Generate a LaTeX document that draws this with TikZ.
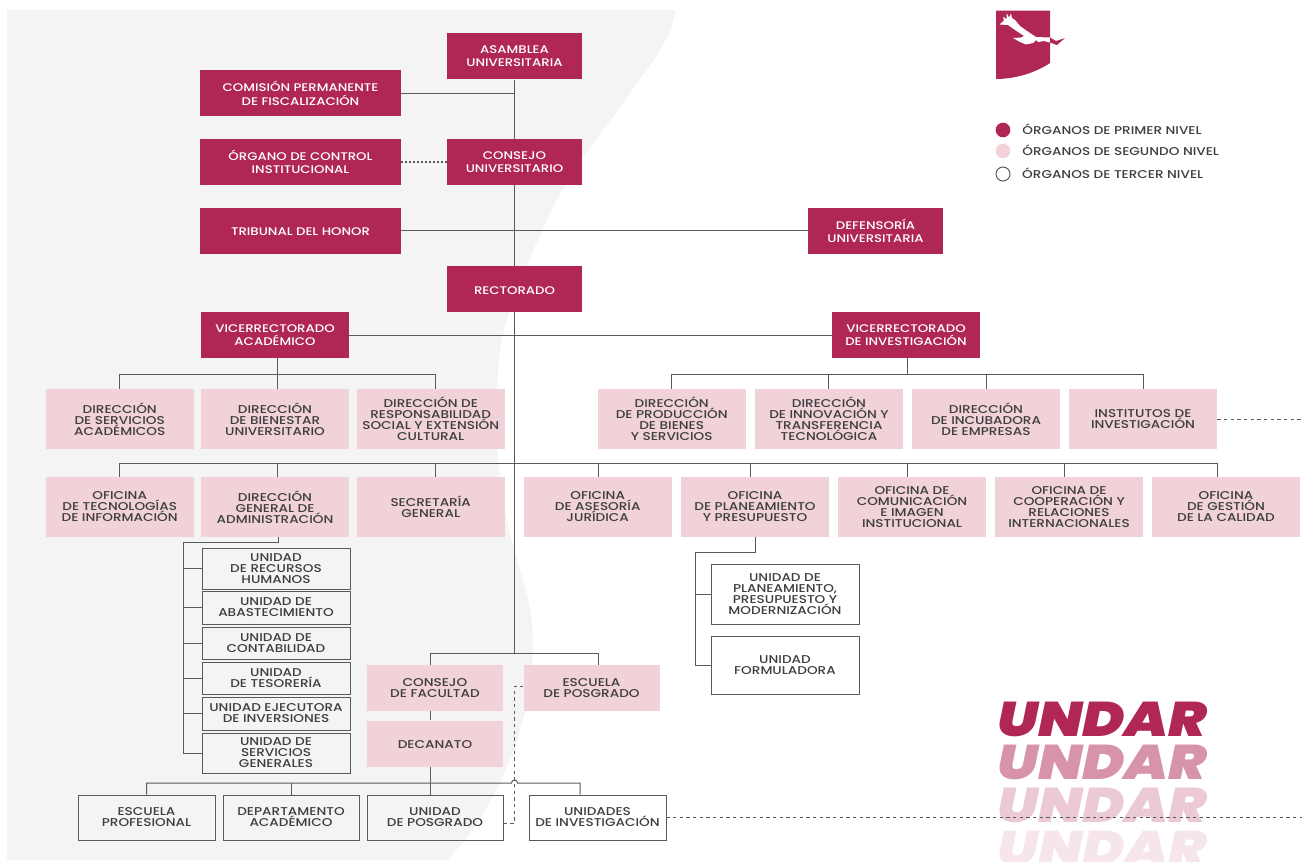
\documentclass[tikz,border=0pt]{standalone}
\usepackage{fontspec}
\setmainfont{Poppins Medium}[FakeStretch=1.2]
\newfontfamily\undarfont{Poppins Black Italic}[FakeStretch=1.17]
\usetikzlibrary{positioning}
\definecolor{vino}{HTML}{B02656}
\definecolor{rosa}{HTML}{F0D2D8}
\definecolor{fondo}{HTML}{F4F4F4}
\definecolor{texto}{HTML}{3E3E3E}
\definecolor{linea}{HTML}{5A5A5A}
\tikzset{
    caja/.style 2 args={minimum width=#1*0.75pt,minimum height=#2*0.75pt,inner sep=0pt,align=center,execute at begin node={\vphantom{Ó}}},
    primer/.style={fill=vino,text=white,font=\fontsize{8.3}{10}\selectfont},
    segundo/.style={fill=rosa,text=texto,font=\fontsize{8.5}{8.25}\selectfont},
    tercer/.style={draw=linea,line width=0.7pt,text=texto,font=\fontsize{8.5}{8.25}\selectfont},
    conector/.style={draw=linea,line width=0.75pt},
    punteado/.style={draw=linea,line width=1.5pt,dash pattern=on 1.5pt off 1.5pt},
    guiones/.style={draw=linea,line width=0.7pt,dash pattern=on 2.5pt off 2.5pt},
    leyenda/.style={text=texto,font=\fontsize{8.5}{10}\selectfont,inner sep=0pt,yshift=0.6pt},
    marca/.style={font=\undarfont\fontsize{36.5}{36.5}\selectfont,anchor=base west,inner sep=0pt}
}
\begin{document}
\begin{tikzpicture}[x=0.75pt,y=-0.75pt]
    \useasboundingbox (0,0) rectangle (1302,861);
    \fill[fondo] (7,10) -- (675,10) .. controls (672,40) and (650,65) .. (625,100) .. controls (600,135) and (575,165) .. (553,207) .. controls (535,245) and (515,290) .. (504,330) .. controls (495,365) and (495,430) .. (500,480) .. controls (505,540) and (533,590) .. (533,640) .. controls (533,710) and (510,790) .. (448,860) -- (7,860) -- cycle;

    % logo
    \fill[vino] (996,10.5) -- (1050,10.5) -- (1050,63) .. controls (1035,73) and (1015,79) .. (996,79) -- cycle;
    \fill[white] (999.5,24.5) -- (1004,20.5) -- (1003,17) -- (1006.5,19) -- (1006.5,13) -- (1009,17.5) -- (1011,13.5) -- (1012,18) -- (1015,20) -- (1020,26) -- (1027,31) -- (1036,37) -- (1050,37.5) -- (1050,42.5) -- (1044,41) -- (1038,42) -- (1036,40) -- (1033,43) -- (1026,44.5) -- (1019,41.5) -- (1013,38) -- (1021,37.5) -- (1024,36) -- (1015,30) -- (1008,25) -- cycle;
    \fill[vino] (1050,37.5) -- (1056,41) -- (1065,38) -- (1057,45) -- (1050,42.5) -- cycle;

    % leyenda
    \node[circle,fill=vino,minimum size=11pt,inner sep=0pt] (leyPrimer) at (1003,130) {};
    \node[circle,fill=rosa,minimum size=11pt,inner sep=0pt] (leySegundo) at (1003,151) {};
    \node[circle,draw=linea,line width=0.75pt,minimum size=10.5pt,inner sep=0pt] (leyTercer) at (1003,174) {};
    \node[leyenda,right=8.6pt of leyPrimer] {ÓRGANOS DE PRIMER NIVEL};
    \node[leyenda,right=8.6pt of leySegundo] {ÓRGANOS DE SEGUNDO NIVEL};
    \node[leyenda,right=8.6pt of leyTercer] {ÓRGANOS DE TERCER NIVEL};

    % marca
    \node[marca,text=vino] (undarA) at (997,736) {UNDAR};
    \node[marca,text=vino!50!white] (undarB) at (997,779) {UNDAR};
    \node[marca,text=vino!25!white] (undarC) at (997,822) {UNDAR};
    \node[marca,text=vino!12!white] (undarD) at (997,865) {UNDAR};

    % primer nivel
    \node[primer,caja={135}{46}] (asamblea) at (514.5,56.3) {ASAMBLEA\\UNIVERSITARIA};
    \node[primer,caja={201}{46}] (comision) at (300.5,93.3) {COMISIÓN PERMANENTE\\DE FISCALIZACIÓN};
    \node[primer,caja={201}{46}] (organo) at (300.5,162) {ÓRGANO DE CONTROL\\INSTITUCIONAL};
    \node[primer,caja={135}{46}] (consejo) at (514.5,162) {CONSEJO\\UNIVERSITARIO};
    \node[primer,caja={201}{46}] (tribunal) at (300.5,230.5) {TRIBUNAL DEL HONOR};
    \node[primer,caja={135}{46}] (defensoria) at (875.5,230.5) {DEFENSORÍA\\UNIVERSITARIA};
    \node[primer,caja={135}{46}] (rectorado) at (514.5,289) {RECTORADO};
    \node[primer,caja={148}{46}] (viceAcad) at (275,335) {VICERRECTORADO\\ACADÉMICO};
    \node[primer,caja={148}{46}] (viceInv) at (906,335) {VICERRECTORADO\\DE INVESTIGACIÓN};

    % segundo nivel, primera fila
    \node[segundo,caja={148}{60}] (dirServ) at (119.7,419) {DIRECCIÓN\\DE SERVICIOS\\ACADÉMICOS};
    \node[segundo,caja={148}{60}] (dirBien) at (275,419) {DIRECCIÓN\\DE BIENESTAR\\UNIVERSITARIO};
    \node[segundo,caja={148}{60}] (dirResp) at (430.7,419) {DIRECCIÓN DE\\RESPONSABILIDAD\\SOCIAL Y EXTENSIÓN\\CULTURAL};
    \node[segundo,caja={148}{60}] (dirProd) at (671.7,419) {DIRECCIÓN\\DE PRODUCCIÓN\\DE BIENES\\Y SERVICIOS};
    \node[segundo,caja={148}{60}] (dirInno) at (829,419) {DIRECCIÓN\\DE INNOVACIÓN Y\\TRANSFERENCIA\\TECNOLÓGICA};
    \node[segundo,caja={148}{60}] (dirIncu) at (986,419) {DIRECCIÓN\\DE INCUBADORA\\DE EMPRESAS};
    \node[segundo,caja={148}{60}] (institutos) at (1143,419) {INSTITUTOS DE\\INVESTIGACIÓN};

    % segundo nivel, segunda fila
    \node[segundo,caja={148}{60}] (ofTec) at (119.7,507) {OFICINA\\DE TECNOLOGÍAS\\DE INFORMACIÓN};
    \node[segundo,caja={148}{60}] (dirGen) at (275,507) {DIRECCIÓN\\GENERAL DE\\ADMINISTRACIÓN};
    \node[segundo,caja={148}{60}] (secretaria) at (430.7,507) {SECRETARÍA\\GENERAL};
    \node[segundo,caja={148}{60}] (ofAses) at (597.7,507) {OFICINA\\DE ASESORÍA\\JURÍDICA};
    \node[segundo,caja={148}{60}] (ofPlan) at (755,507) {OFICINA\\DE PLANEAMIENTO\\Y PRESUPUESTO};
    \node[segundo,caja={148}{60}] (ofCom) at (912,507) {OFICINA DE\\COMUNICACIÓN\\E IMAGEN\\INSTITUCIONAL};
    \node[segundo,caja={148}{60}] (ofCoop) at (1069,507) {OFICINA DE\\COOPERACIÓN Y\\RELACIONES\\INTERNACIONALES};
    \node[segundo,caja={148}{60}] (ofGest) at (1226,507) {OFICINA\\DE GESTIÓN\\DE LA CALIDAD};

    % unidades de administracion
    \node[tercer,caja={148}{41}] (uniRec) at (276,568.5) {UNIDAD\\DE RECURSOS\\HUMANOS};
    \node[tercer,caja={148}{33}] (uniAba) at (276,607.5) {UNIDAD DE\\ABASTECIMIENTO};
    \node[tercer,caja={148}{32}] (uniCon) at (276,643) {UNIDAD DE\\CONTABILIDAD};
    \node[tercer,caja={148}{32}] (uniTes) at (276,678) {UNIDAD\\DE TESORERÍA};
    \node[tercer,caja={148}{33}] (uniEje) at (276,713.5) {UNIDAD EJECUTORA\\DE INVERSIONES};
    \node[tercer,caja={148}{40}] (uniSer) at (276,753) {UNIDAD DE\\SERVICIOS\\GENERALES};

    % unidades de planeamiento
    \node[tercer,caja={148}{60}] (uniPla) at (785,594.5) {UNIDAD DE\\PLANEAMIENTO,\\PRESUPUESTO Y\\MODERNIZACIÓN};
    \node[tercer,caja={148}{58}] (uniFor) at (785,665) {UNIDAD\\FORMULADORA};

    % facultad
    \node[segundo,caja={136}{46}] (conFac) at (435,688) {CONSEJO\\DE FACULTAD};
    \node[segundo,caja={136}{46}] (decanato) at (435,743.5) {DECANATO};
    \node[segundo,caja={136}{46}] (escPos) at (591.5,688) {ESCUELA\\DE POSGRADO};
    \node[tercer,caja={137}{45}] (escPro) at (146.5,817.5) {ESCUELA\\PROFESIONAL};
    \node[tercer,caja={136}{45}] (depAca) at (291,817.5) {DEPARTAMENTO\\ACADÉMICO};
    \node[tercer,caja={136}{45}] (uniPos) at (435,817.5) {UNIDAD\\DE POSGRADO};
    \node[tercer,caja={137}{45}] (uniInv) at (597.5,817.5) {UNIDADES\\DE INVESTIGACIÓN};

    % puntos de apoyo
    \coordinate (tronco) at (514.5,653);
    \coordinate (busFac) at (430.5,653);
    \coordinate (busEsc) at (598,653);
    \coordinate (filaFin) at (1217,463);
    \coordinate (bajaGen) at (277.5,463);
    \coordinate (bajaSec) at (435,463);
    \coordinate (bajaAse) at (598,463);
    \coordinate (bajaPla) at (750,463);
    \coordinate (bajaCom) at (907,463);
    \coordinate (bajaCoo) at (1064,463);
    \coordinate (acaDer) at (435,374);
    \coordinate (acaTallo) at (277.5,374);
    \coordinate (invIzq) at (671.5,374);
    \coordinate (invDer) at (1143,374);
    \coordinate (invTallo) at (907,374);
    \coordinate (invMedio) at (828,374);
    \coordinate (admCodo) at (183.5,542);
    \coordinate (admFin) at (183.5,753);
    \coordinate (admTallo) at (278,542);
    \coordinate (plaCodo) at (695,552);
    \coordinate (plaFin) at (695,665);
    \coordinate (plaTallo) at (755,552);
    \coordinate (busDer) at (580,783);
    \coordinate (busMedio) at (291,783);
    \coordinate (saltoIzq) at (511.5,783);
    \coordinate (saltoPos) at (514.5,686);
    \coordinate (saltoBaja) at (514.5,823);
    \coordinate (salidaInv) at (1302,817.5);
    \coordinate (salidaIns) at (1302,419);

    % conectores
    \draw[conector] (asamblea) -- (consejo);
    \draw[conector] (consejo) -- (rectorado);
    \draw[conector] (rectorado) -- (tronco);
    \draw[conector] (comision.east) -- (comision.east -| asamblea);
    \draw[conector] (tribunal) -- (defensoria);
    \draw[punteado] (organo) -- (consejo);
    \draw[conector] (viceAcad) -- (viceInv);

    \draw[conector] (dirServ.north) |- (acaDer) -- (acaDer |- dirResp.north);
    \draw[conector] (acaTallo |- viceAcad.south) -- (acaTallo |- dirBien.north);
    \draw[conector] (invIzq |- dirProd.north) |- (invDer) -- (invDer |- institutos.north);
    \draw[conector] (invTallo |- viceInv.south) -- (invTallo);
    \draw[conector] (invMedio) -- (invMedio |- dirInno.north);
    \draw[conector] (dirIncu.north) -- (dirIncu.north |- invMedio);
    \draw[guiones] (institutos) -- (salidaIns);

    \draw[conector] (ofTec.north) |- (filaFin) -- (filaFin |- ofGest.north);
    \foreach \baja/\destino in {bajaGen/dirGen,bajaSec/secretaria,bajaAse/ofAses,bajaPla/ofPlan,bajaCom/ofCom,bajaCoo/ofCoop}
        \draw[conector] (\baja) -- (\baja |- \destino.north);

    \draw[conector] (admTallo |- dirGen.south) |- (admCodo) -- (admFin) -- (uniSer.west |- admFin);
    \foreach \unidad in {uniRec,uniAba,uniCon,uniTes,uniEje}
        \draw[conector] (admCodo |- \unidad.west) -- (\unidad.west);

    \draw[conector] (plaTallo |- ofPlan.south) |- (plaCodo) -- (plaFin) -- (uniFor.west);
    \draw[conector] (plaCodo |- uniPla.west) -- (uniPla.west);

    \draw[conector] (busFac |- conFac.north) |- (busEsc) -- (busEsc |- escPos.north);
    \draw[conector] (busFac |- conFac.south) -- (busFac |- decanato.north);
    \draw[conector] (busFac |- decanato.south) -- (busFac |- uniPos.north);
    \draw[conector] (escPro.north) |- (saltoIzq) arc[start angle=180,end angle=0,radius=2.25pt] -| (busDer |- uniInv.north);
    \draw[conector] (busMedio) -- (depAca.north);
    \draw[guiones] (escPos.west |- saltoPos) -- (saltoPos) -- (saltoBaja) -- (uniPos.east |- saltoBaja);
    \draw[guiones] (uniInv) -- (salidaInv);
\end{tikzpicture}
\end{document}
